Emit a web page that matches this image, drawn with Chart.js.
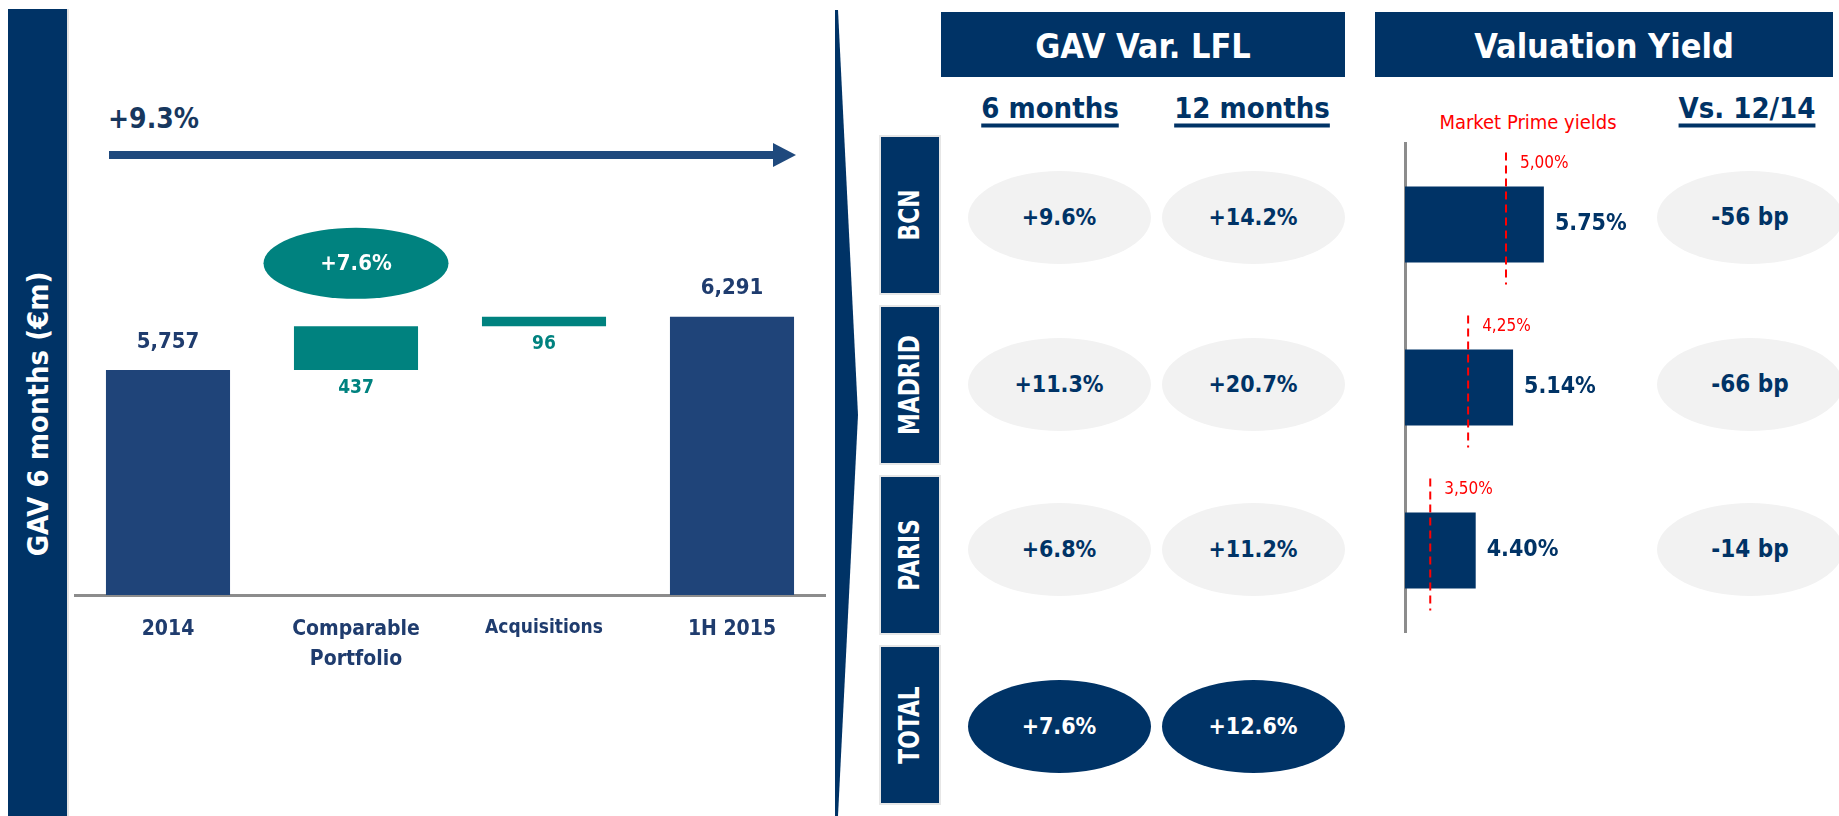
<!DOCTYPE html>
<html>
<head>
<meta charset="utf-8">
<title>GAV 1H 2015</title>
<script src="https://cdn.jsdelivr.net/npm/chart.js@4.4.1/dist/chart.umd.min.js"></script>
<style>
  body { margin: 0; width: 1839px; height: 816px; overflow: hidden; background: #fff; position: relative;
         font-family: 'DejaVu Sans Condensed', 'DejaVu Sans', sans-serif; color: #003366; }
  .c { position: absolute; transform: translate(-50%, -50%); white-space: nowrap; line-height: 1; }
  .l { position: absolute; transform: translateY(-50%); white-space: nowrap; line-height: 1; }
  .box { position: absolute; background: #003366; color: #fff; }
  .head { font-weight: bold; font-size: 34px; }
  .bubble { position: absolute; border-radius: 50%; display: flex; align-items: center; justify-content: center;
            font-weight: bold; font-size: 23px; }
  .sub { font-weight: bold; font-size: 29px; text-decoration: underline; text-decoration-thickness: 4px;
         text-underline-offset: 6px; }
  canvas { position: absolute; }
</style>
</head>
<body>

<svg width="1839" height="816" style="position:absolute;left:0;top:0">
  <polygon points="835,10 838,10 858,415 838,816 835,816" fill="#003366"/>
  <rect x="109" y="151" width="665" height="8" fill="#1f497d"/>
  <polygon points="773,143 796,155 773,167" fill="#1f497d"/>
</svg>

<div class="box" style="left:8px;top:9px;width:59px;height:807px;box-shadow:2px 0 0 #e3e3e3">
  <div class="c" style="left:30px;top:405px;transform:translate(-50%,-50%) rotate(-90deg);font-weight:bold;font-size:29px">GAV 6 months (€m)</div>
</div>

<div class="l" id="growthLabel" style="left:108px;top:119px;font-weight:bold;font-size:28px;color:#17375e"></div>

<canvas id="wfChart" width="752" height="500" style="left:74px;top:200px"></canvas>

<div class="box" style="left:941px;top:12px;width:404px;height:65px">
  <div class="c head" style="left:50%;top:52%">GAV Var. LFL</div>
</div>
<div class="box" style="left:1375px;top:12px;width:458px;height:65px">
  <div class="c head" style="left:50%;top:52%">Valuation Yield</div>
</div>

<div class="c sub" style="left:1050px;top:108px">6 months</div>
<div class="c sub" style="left:1252px;top:108px">12 months</div>
<div class="c sub" style="left:1747px;top:108px">Vs. 12/14</div>
<div class="c" style="left:1528px;top:122px;font-size:20px;color:#ff0000">Market Prime yields</div>

<div id="cells"></div>

<canvas id="yieldChart" width="300" height="510" style="left:1395px;top:133px"></canvas>

<script>
// waterfall: GAV 6 months (EUR m)
const wfCategories = ['2014', ['Comparable', 'Portfolio'], 'Acquisitions', '1H 2015'];
const wfValues = [5757, 437, 96, 6291];
const wfKinds = ['total', 'delta', 'delta', 'total'];
const totalGrowth = 9.3;
const comparableGrowth = 7.6;

// GAV var. LFL table
const cities = ['BCN', 'MADRID', 'PARIS', 'TOTAL'];
const lfl6m = [9.6, 11.3, 6.8, 7.6];
const lfl12m = [14.2, 20.7, 11.2, 12.6];

// valuation yield
const yieldCities = ['BCN', 'MADRID', 'PARIS'];
const valuationYield = [5.75, 5.14, 4.40];
const primeYield = [5.00, 4.25, 3.50];
const yieldChangeBp = [-56, -66, -14];

const NAVY = '#003366';
const BAR_NAVY = '#1f4479';
const TEAL = '#00827f';
const FONT = "'DejaVu Sans Condensed', 'DejaVu Sans', sans-serif";

const pct1 = v => '+' + v.toFixed(1) + '%';

document.getElementById('growthLabel').textContent = pct1(totalGrowth);

// row label boxes and bubbles
const rowTops = [137, 307, 477, 647];
const rowCenters = [217, 384, 549, 726];
const cells = document.getElementById('cells');
cities.forEach((city, i) => {
    const isTotal = city === 'TOTAL';
    const lab = document.createElement('div');
    lab.className = 'box';
    lab.style.cssText = `left:881px;top:${rowTops[i]}px;width:58px;height:156px;box-shadow:0 0 0 2px #e6e6e6`;
    lab.innerHTML = `<div class="c" style="left:50%;top:50%;transform:translate(-50%,-50%) rotate(-90deg) scaleX(0.78);font-family:'DejaVu Sans',sans-serif;font-weight:bold;font-size:28px">${city}</div>`;
    cells.appendChild(lab);

    [[1059, lfl6m[i]], [1253, lfl12m[i]]].forEach(([cx, v]) => {
        const b = document.createElement('div');
        b.className = 'bubble';
        b.style.cssText = `left:${cx - 91.5}px;top:${rowCenters[i] - 46.5}px;width:183px;height:93px;` +
            `background:${isTotal ? NAVY : '#f2f2f2'};color:${isTotal ? '#fff' : NAVY}`;
        b.textContent = pct1(v);
        cells.appendChild(b);
    });
});
yieldChangeBp.forEach((bp, i) => {
    const b = document.createElement('div');
    b.className = 'bubble';
    b.style.cssText = `left:${1750 - 93}px;top:${rowCenters[i] - 46.5}px;width:186px;height:93px;background:#f2f2f2;color:${NAVY};font-size:24px`;
    b.textContent = bp + ' bp';
    cells.appendChild(b);
});

// waterfall bars: totals from the axis floor, deltas floating on the running total
let running = 0;
const wfData = wfValues.map((v, i) => {
    if (wfKinds[i] === 'total') { running = v; return v; }
    const seg = [running, running + v];
    running += v;
    return seg;
});

const wfLabels = {
    id: 'wfLabels',
    afterDatasetsDraw(chart) {
        const ctx = chart.ctx;
        const bars = chart.getDatasetMeta(0).data;
        ctx.save();
        ctx.textAlign = 'center';
        ctx.textBaseline = 'middle';
        bars.forEach((bar, i) => {
            const top = Math.min(bar.y, bar.base);
            const bottom = Math.max(bar.y, bar.base);
            if (wfKinds[i] === 'total') {
                ctx.font = `bold 22px ${FONT}`;
                ctx.fillStyle = '#1f3c6e';
                ctx.fillText(wfValues[i].toLocaleString('en-US'), bar.x, top - 28);
            } else {
                ctx.font = `bold 19px ${FONT}`;
                ctx.fillStyle = TEAL;
                ctx.fillText(String(wfValues[i]), bar.x, bottom + 18);
            }
        });
        // LFL bubble over the comparable portfolio bar
        const cb = bars[1];
        const cy = Math.min(cb.y, cb.base) - 63;
        ctx.beginPath();
        ctx.ellipse(cb.x, cy, 92.5, 35.5, 0, 0, Math.PI * 2);
        ctx.fillStyle = TEAL;
        ctx.fill();
        ctx.font = `bold 22px ${FONT}`;
        ctx.fillStyle = '#fff';
        ctx.fillText(pct1(comparableGrowth), cb.x, cy + 1);
        ctx.restore();
    }
};

new Chart(document.getElementById('wfChart'), {
    type: 'bar',
    data: {
        labels: wfCategories,
        datasets: [{
            data: wfData,
            backgroundColor: wfKinds.map(k => k === 'total' ? BAR_NAVY : TEAL),
            barPercentage: 0.66,
            categoryPercentage: 1
        }]
    },
    options: {
        responsive: false,
        animation: false,
        layout: { padding: { top: 46, left: 0, right: 0, bottom: 0 } },
        plugins: { legend: { display: false }, tooltip: { enabled: false } },
        scales: {
            x: {
                grid: { display: false, drawTicks: false },
                border: { display: true, color: '#8c8c8c', width: 3 },
                ticks: {
                    padding: 20,
                    color: '#1f3c6e',
                    maxRotation: 0,
                    autoSkip: false,
                    font: c => ({ family: FONT, weight: 'bold', size: c.index === 2 ? 19 : 21, lineHeight: 1.4 })
                },
                afterFit: s => { s.height = 105; }
            },
            y: { display: false, min: 3500, max: 7000 }
        }
    },
    plugins: [wfLabels]
});

// market prime yield markers and value labels
const yieldMarks = {
    id: 'yieldMarks',
    afterDatasetsDraw(chart) {
        const ctx = chart.ctx;
        const xs = chart.scales.x;
        ctx.save();
        chart.getDatasetMeta(0).data.forEach((bar, i) => {
            const p = bar.getProps(['x', 'y', 'base', 'height'], true);
            const top = p.y - p.height / 2;
            const bottom = p.y + p.height / 2;
            const mx = xs.getPixelForValue(primeYield[i]);
            ctx.strokeStyle = '#ff0000';
            ctx.lineWidth = 2;
            ctx.setLineDash([8, 5]);
            ctx.beginPath();
            ctx.moveTo(mx, top - 34);
            ctx.lineTo(mx, bottom + 22);
            ctx.stroke();
            ctx.setLineDash([]);
            ctx.textAlign = 'left';
            ctx.textBaseline = 'middle';
            ctx.font = `17px ${FONT}`;
            ctx.fillStyle = '#ff0000';
            ctx.fillText(primeYield[i].toFixed(2).replace('.', ',') + '%', mx + 14, top - 23);
            ctx.font = `bold 23px ${FONT}`;
            ctx.fillStyle = NAVY;
            ctx.fillText(valuationYield[i].toFixed(2) + '%', p.x + 11, p.y);
        });
        ctx.restore();
    }
};

new Chart(document.getElementById('yieldChart'), {
    type: 'bar',
    data: {
        labels: yieldCities,
        datasets: [{
            data: valuationYield,
            backgroundColor: NAVY,
            barPercentage: 0.466,
            categoryPercentage: 1
        }]
    },
    options: {
        indexAxis: 'y',
        responsive: false,
        animation: false,
        layout: { padding: { top: 10, left: 10, right: 88, bottom: 11 } },
        plugins: { legend: { display: false }, tooltip: { enabled: false } },
        scales: {
            x: { display: false, min: 3, max: 7 },
            y: {
                grid: { display: false, drawTicks: false },
                border: { display: true, color: '#8c8c8c', width: 3 },
                ticks: { display: false },
                afterFit: s => { s.width = 0; }
            }
        }
    },
    plugins: [yieldMarks]
});
</script>
</body>
</html>
